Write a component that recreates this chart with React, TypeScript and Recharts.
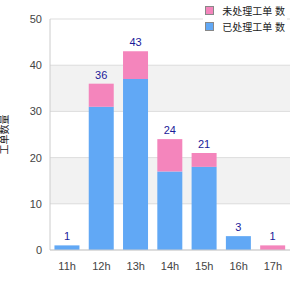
import { BarChart, Bar, XAxis, YAxis, CartesianGrid, LabelList } from "recharts";

const hours = ["11h", "12h", "13h", "14h", "15h", "16h", "17h"];
const doneCounts = [1, 31, 37, 17, 18, 3, 0];
const openCounts = [0, 5, 6, 7, 3, 0, 1];
const yTicks = [0, 10, 20, 30, 40, 50];

const PINK = "#f485bc";
const BLUE = "#61a8f5";
const FONT = "'Liberation Sans', Arial, 'Noto Sans CJK SC', sans-serif";

const legendItems = [
  { name: "未处理工单 数", color: PINK },
  { name: "已处理工单 数", color: BLUE },
];

const data = hours.map((h, i) => ({
  hour: h,
  done: doneCounts[i],
  open: openCounts[i],
  total: doneCounts[i] + openCounts[i],
}));

// total goes above whichever segment is on top of the stack
const renderTotal = (props: any) => {
  const { x, y, width, value } = props;
  if (value === null || value === undefined || value === "") return null;
  return (
    <text
      x={x + width / 2}
      y={y - 5}
      textAnchor="middle"
      fill="#1a1a99"
      fontSize={11}
      fontFamily={FONT}
    >
      {value}
    </text>
  );
};

function ChartLegend() {
  return (
    <div
      style={{
        position: "absolute",
        top: 1,
        right: 13,
        background: "#fff",
        padding: "1px 2px",
        fontSize: 10,
        fontFamily: FONT,
        color: "#222",
      }}
    >
      {legendItems.map((it) => (
        <div key={it.name} style={{ display: "flex", alignItems: "center", height: 16 }}>
          <span
            style={{
              width: 7,
              height: 7,
              background: it.color,
              border: "1px solid #888",
              marginRight: 8,
              display: "inline-block",
            }}
          />
          {it.name}
        </div>
      ))}
    </div>
  );
}

export default function App() {
  return (
    <div style={{ position: "absolute", left: 0, top: 0, width: 300, height: 300, background: "#fff" }}>
      <BarChart
        width={300}
        height={300}
        data={data}
        margin={{ top: 19, right: 10, bottom: 20, left: 0 }}
        barCategoryGap="13%"
        style={{ fontFamily: FONT }}
      >
        <CartesianGrid
          vertical={false}
          stroke="#dddddd"
          horizontalFill={["#ffffff", "#f2f2f2"]}
        />
        <XAxis
          dataKey="hour"
          height={30}
          tickLine={false}
          stroke="#cccccc"
          tick={{ fill: "#444", fontSize: 11 }}
          tickMargin={6}
        />
        <YAxis
          width={50}
          domain={[0, 50]}
          ticks={yTicks}
          tickLine={false}
          stroke="#cccccc"
          tick={{ fill: "#444", fontSize: 11 }}
          label={{
            value: "工单数量",
            angle: -90,
            position: "insideLeft",
            offset: 4,
            style: { fill: "#222", fontSize: 10, textAnchor: "middle" },
          }}
        />
        <Bar dataKey="done" stackId="a" fill={BLUE} isAnimationActive={false}>
          <LabelList
            dataKey={(d: any) => (d.open === 0 ? d.total : null)}
            content={renderTotal}
          />
        </Bar>
        <Bar dataKey="open" stackId="a" fill={PINK} isAnimationActive={false}>
          <LabelList
            dataKey={(d: any) => (d.open > 0 ? d.total : null)}
            content={renderTotal}
          />
        </Bar>
      </BarChart>
      <ChartLegend />
    </div>
  );
}
